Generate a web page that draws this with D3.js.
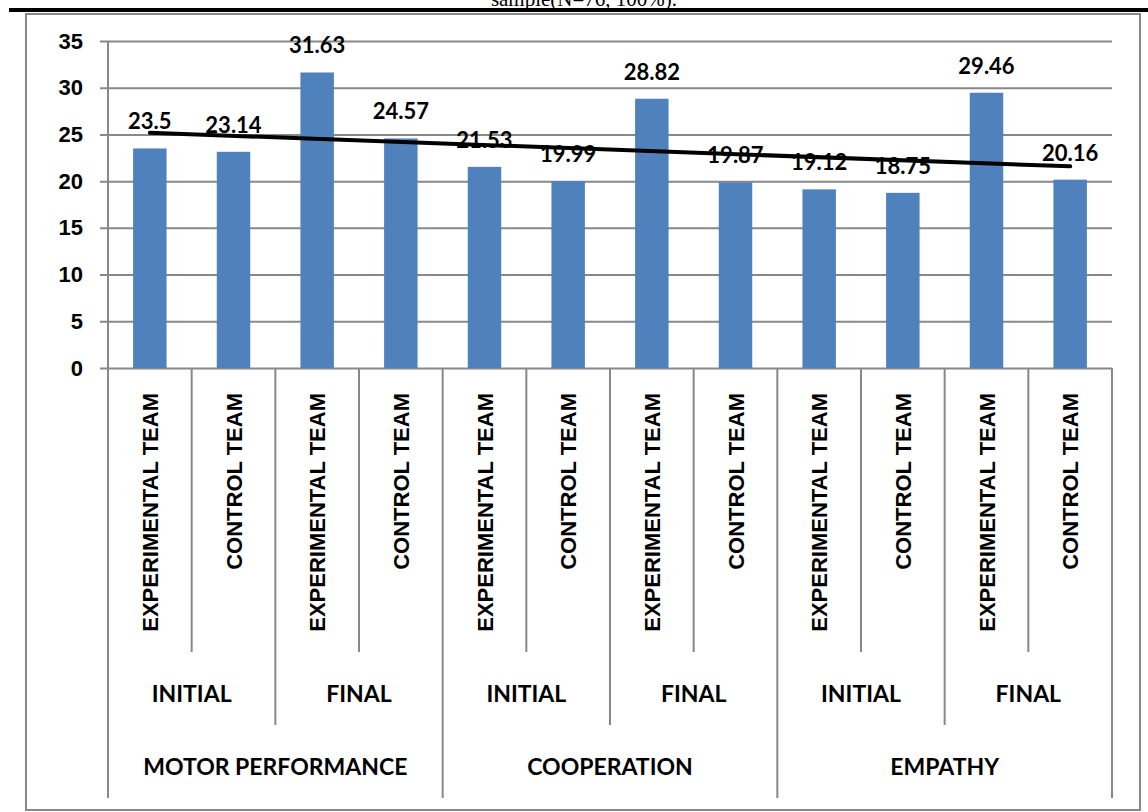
<!DOCTYPE html>
<html>
<head>
<meta charset="utf-8">
<script src="https://cdn.jsdelivr.net/npm/d3@7"></script>
<style>
  html, body { margin: 0; padding: 0; background: #fff; }
  svg { display: block; }
</style>
</head>
<body>
<svg id="chart" width="1148" height="812"></svg>
<script>
// ---- data ----
const groups = ["MOTOR PERFORMANCE", "COOPERATION", "EMPATHY"];
const phases = ["INITIAL", "FINAL"];
const teams = ["EXPERIMENTAL TEAM", "CONTROL TEAM"];
const values = [23.5, 23.14, 31.63, 24.57, 21.53, 19.99, 28.82, 19.87, 19.12, 18.75, 29.46, 20.16];
const yTicks = [0, 5, 10, 15, 20, 25, 30, 35];
const titleText = "sample(N=76, 100%).";

(function () {
// build category rows
const rows = [];
groups.forEach((g) => phases.forEach((p) => teams.forEach((t) => {
  rows.push({ group: g, phase: p, team: t, idx: rows.length, value: values[rows.length] });
})));

const svg = d3.select("#chart");
const W = 1148;
const pL = 108, pR = 1112, pT = 41, pB = 368;
const grey = "#888888";

// title fragment and top rule
svg.append("text")
  .attr("x", 584).attr("y", 6)
  .attr("text-anchor", "middle")
  .attr("font-family", "'Liberation Serif', 'Times New Roman', serif")
  .attr("font-size", 21)
  .attr("fill", "#000")
  .text(titleText);
svg.append("line")
  .attr("x1", 9).attr("x2", W).attr("y1", 10).attr("y2", 10)
  .attr("stroke", "#000").attr("stroke-width", 4);

// chart border
svg.append("rect")
  .attr("x", 26).attr("y", 14).attr("width", 1114).attr("height", 796)
  .attr("fill", "none").attr("stroke", grey).attr("stroke-width", 2);

// scales
const x = d3.scaleBand().domain(rows.map(d => d.idx)).range([pL, pR])
  .paddingInner(0.6).paddingOuter(0.3);
const step = x.step();
const y = d3.scaleLinear().domain([0, 35]).range([pB, pT]);

// gridlines
const grid = svg.append("g").attr("transform", `translate(100,0)`)
  .call(d3.axisRight(y).tickValues(yTicks).tickSize(pR - 100).tickFormat(""));
grid.select(".domain").remove();
grid.selectAll(".tick line").attr("stroke", grey).attr("stroke-width", 2);

// y axis labels
const yAxis = svg.append("g").attr("transform", `translate(${pL},0)`)
  .call(d3.axisLeft(y).tickValues(yTicks).tickSize(0).tickPadding(25).tickFormat(d3.format("d")));
yAxis.select(".domain").remove();
yAxis.selectAll(".tick text")
  .attr("font-family", "'Liberation Sans', Arial, sans-serif")
  .attr("font-weight", "bold")
  .attr("font-size", 22)
  .attr("fill", "#000");

// bars
svg.append("g").selectAll("rect").data(rows).join("rect")
  .attr("x", d => x(d.idx))
  .attr("width", x.bandwidth())
  .attr("y", d => y(d.value))
  .attr("height", d => y(0) - y(d.value))
  .attr("fill", "#4F81BD");

// category separators (multi-level axis)
const bx = k => pL + k * step;
const seps = d3.range(13).map(k => ({ k, y2: (k % 4 === 0) ? 798 : (k % 2 === 0 ? 725 : 652) }));
svg.append("g").selectAll("line").data(seps).join("line")
  .attr("x1", d => bx(d.k)).attr("x2", d => bx(d.k))
  .attr("y1", d => d.k === 0 ? pT : pB).attr("y2", d => d.y2)
  .attr("stroke", grey).attr("stroke-width", 2);

// team labels (rotated)
svg.append("g").selectAll("text").data(rows).join("text")
  .attr("transform", d => `translate(${x(d.idx) + x.bandwidth() / 2 + 8},393) rotate(-90)`)
  .attr("text-anchor", "end")
  .attr("font-family", "'Liberation Sans', Arial, sans-serif")
  .attr("font-weight", "bold")
  .attr("font-size", 22)
  .attr("fill", "#000")
  .text(d => d.team);

// phase labels
const phaseRows = [];
groups.forEach(() => phases.forEach((p) => phaseRows.push({ label: p, k: phaseRows.length })));
svg.append("g").selectAll("text").data(phaseRows).join("text")
  .attr("x", d => bx(d.k * 2 + 1))
  .attr("y", 702)
  .attr("text-anchor", "middle")
  .attr("font-family", "Lato, 'Noto Sans', sans-serif")
  .attr("font-weight", "bold")
  .attr("font-size", 23)
  .attr("fill", "#000")
  .text(d => d.label);

// group labels
svg.append("g").selectAll("text").data(groups).join("text")
  .attr("x", (d, i) => bx(i * 4 + 2))
  .attr("y", 775)
  .attr("text-anchor", "middle")
  .attr("font-family", "Lato, 'Noto Sans', sans-serif")
  .attr("font-weight", "bold")
  .attr("font-size", 23)
  .attr("fill", "#000")
  .text(d => d);

// data labels
svg.append("g").selectAll("text").data(rows).join("text")
  .attr("x", d => x(d.idx) + x.bandwidth() / 2)
  .attr("y", d => y(d.value) - 19)
  .attr("text-anchor", "middle")
  .attr("font-family", "Lato, 'Noto Sans', sans-serif")
  .attr("font-weight", "bold")
  .attr("font-size", 22)
  .attr("fill", "#000")
  .text(d => d.value);

// linear trendline (least squares over category positions 1..n)
const n = values.length;
const xs = d3.range(1, n + 1);
const mx = d3.mean(xs), my = d3.mean(values);
const slope = d3.sum(xs, (xi, i) => (xi - mx) * (values[i] - my)) / d3.sum(xs, xi => (xi - mx) ** 2);
const icpt = my - slope * mx;
const trend = [rows[0], rows[n - 1]].map(d => ({ idx: d.idx, v: icpt + slope * (d.idx + 1) }));
svg.append("path")
  .datum(trend)
  .attr("d", d3.line().x(d => x(d.idx) + x.bandwidth() / 2).y(d => y(d.v)))
  .attr("fill", "none")
  .attr("stroke", "#000")
  .attr("stroke-width", 4)
  .attr("stroke-linecap", "round");
})();
</script>
</body>
</html>
